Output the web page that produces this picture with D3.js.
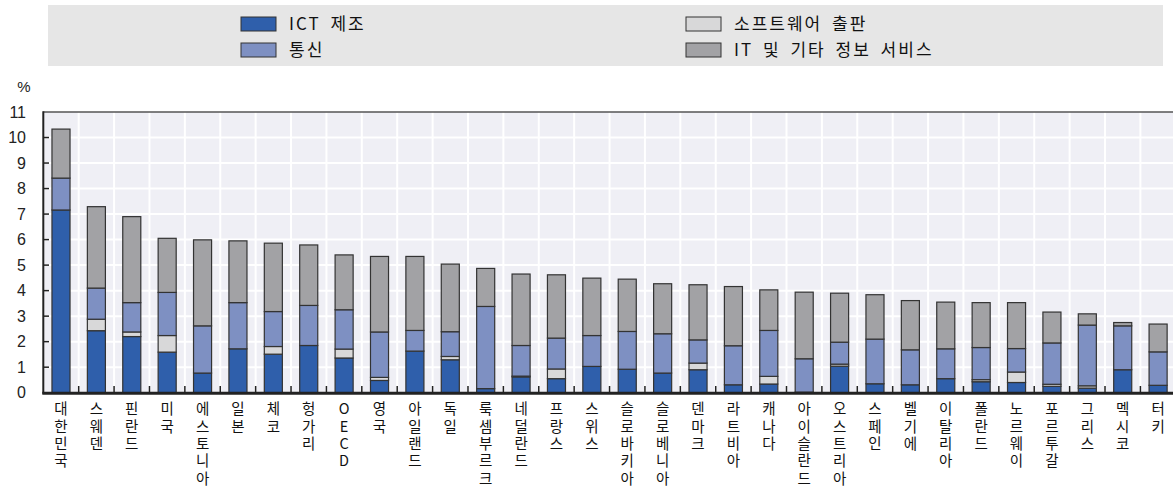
<!DOCTYPE html>
<html>
<head>
<meta charset="utf-8">
<style>
  body { margin: 0; background: #fff; }
  svg { display: block; font-family: "Noto Sans CJK KR", "Liberation Sans", sans-serif; }
  .xl { writing-mode: vertical-rl; text-orientation: upright; }
</style>
</head>
<body>
<svg width="1173" height="489"></svg>
<script src="https://d3js.org/d3.v7.min.js"></script>
<script>
var countries = ["대한민국","스웨덴","핀란드","미국","에스토니아","일본","체코","헝가리","OECD","영국","아일랜드",
  "독일","룩셈부르크","네덜란드","프랑스","스위스","슬로바키아","슬로베니아","덴마크","라트비아","캐나다","아이슬란드",
  "오스트리아","스페인","벨기에","이탈리아","폴란드","노르웨이","포르투갈","그리스","멕시코","터키"];

var ictManufacturing = [7.16,2.43,2.20,1.59,0.77,1.72,1.51,1.85,1.36,0.48,1.63,
  1.29,0.16,0.62,0.55,1.03,0.92,0.77,0.90,0.31,0.34,0.02,
  1.04,0.35,0.31,0.55,0.43,0.40,0.25,0.18,0.90,0.29];
var softwarePublishing = [0,0.45,0.18,0.65,0,0,0.30,0,0.35,0.12,0,
  0.13,0,0.03,0.38,0,0,0,0.26,0,0.30,0,
  0.08,0,0,0,0.08,0.41,0.08,0.09,0,0];
var telecom = [1.25,1.22,1.15,1.69,1.85,1.81,1.37,1.57,1.54,1.78,0.81,
  0.97,3.22,1.20,1.21,1.21,1.48,1.54,0.91,1.53,1.80,1.31,
  0.86,1.75,1.37,1.17,1.26,0.92,1.62,2.38,1.72,1.31];
var itServices = [1.92,3.19,3.37,2.12,3.37,2.42,2.68,2.37,2.15,2.96,2.90,
  2.65,1.49,2.80,2.48,2.25,2.05,1.96,2.16,2.32,1.59,2.61,
  1.92,1.74,1.93,1.83,1.76,1.80,1.21,0.44,0.13,1.09];

var seriesKeys = ["ict", "sw", "tel", "it"];
var seriesNames = {ict: "ICT 제조", sw: "소프트웨어 출판", tel: "통신", it: "IT 및 기타 정보 서비스"};
var yTicks = d3.range(0, 12);

var colors = {ict: "#2f5fab", sw: "#d8d8d9", tel: "#7e90c2", it: "#a2a2a5"};

var svg = d3.select("svg");

var rows = countries.map(function(c, i) {
  return {country: c, ict: ictManufacturing[i], sw: softwarePublishing[i], tel: telecom[i], it: itServices[i]};
});

var x = d3.scaleBand().domain(countries).range([43.3, 1175.8]).paddingInner(0.49).paddingOuter(0.245);
var y = d3.scaleLinear().domain([0, 11]).range([392.7, 112]);
var step = x.step();

// legend
svg.append("rect").attr("x", 48).attr("y", 5).attr("width", 1115).attr("height", 61).attr("fill", "#e6e6e6");
var legendPos = [
  {k: "ict", x: 241, y: 17}, {k: "tel", x: 241, y: 43},
  {k: "sw", x: 686, y: 17}, {k: "it", x: 686, y: 43}
];
var lg = svg.selectAll(".lg").data(legendPos).enter().append("g").attr("class", "lg");
lg.append("rect")
  .attr("x", function(d) { return d.x; }).attr("y", function(d) { return d.y; })
  .attr("width", 35).attr("height", 14)
  .attr("fill", function(d) { return colors[d.k]; })
  .attr("stroke", "#333").attr("stroke-width", 1);
lg.append("text")
  .attr("x", function(d) { return d.x + 48; }).attr("y", function(d) { return d.y + 7; })
  .attr("dy", "0.35em").attr("font-size", 17).attr("fill", "#111")
  .attr("letter-spacing", 2).attr("word-spacing", 4)
  .text(function(d) { return seriesNames[d.k]; });

// plot background
svg.append("rect").attr("x", 43.3).attr("y", 112).attr("width", 1173 - 43.3).attr("height", 392.7 - 112).attr("fill", "#efeff5");

// grid
svg.selectAll(".hg").data(yTicks.slice(1, -1)).enter().append("line")
  .attr("x1", 43.3).attr("x2", 1173)
  .attr("y1", function(d) { return y(d); }).attr("y2", function(d) { return y(d); })
  .attr("stroke", "#fff").attr("stroke-width", 2);
svg.selectAll(".vg").data(countries.slice(1)).enter().append("line")
  .attr("x1", function(d) { return x(d) - step * 0.245; }).attr("x2", function(d) { return x(d) - step * 0.245; })
  .attr("y1", 112).attr("y2", 392.7)
  .attr("stroke", "#fff").attr("stroke-width", 2);

// bars
var stack = d3.stack().keys(seriesKeys)(rows);
svg.selectAll(".layer").data(stack).enter().append("g").attr("class", "layer")
  .attr("fill", function(d) { return colors[d.key]; })
  .selectAll("rect").data(function(d) { return d.filter(function(p) { return p[1] - p[0] > 0; }); }).enter().append("rect")
  .attr("x", function(d) { return x(d.data.country); })
  .attr("width", x.bandwidth())
  .attr("y", function(d) { return y(d[1]); })
  .attr("height", function(d) { return y(d[0]) - y(d[1]); })
  .attr("stroke", "#333").attr("stroke-width", 1.2);

// frame: top and left, bottom axis
svg.append("line").attr("x1", 43.3).attr("x2", 1173).attr("y1", 112).attr("y2", 112).attr("stroke", "#555").attr("stroke-width", 1.5);
svg.append("line").attr("x1", 43.3).attr("x2", 43.3).attr("y1", 111.3).attr("y2", 393.7).attr("stroke", "#222").attr("stroke-width", 2);
svg.append("line").attr("x1", 42.3).attr("x2", 1173).attr("y1", 393.2).attr("y2", 393.2).attr("stroke", "#222").attr("stroke-width", 3);

// y ticks
svg.selectAll(".yt").data(yTicks.slice(1, -1)).enter().append("line")
  .attr("x1", 43.3).attr("x2", 49)
  .attr("y1", function(d) { return y(d); }).attr("y2", function(d) { return y(d); })
  .attr("stroke", "#222").attr("stroke-width", 1.5);
svg.selectAll(".yl").data(yTicks).enter().append("text")
  .attr("x", 26).attr("y", function(d) { return y(d); }).attr("dy", "0.36em")
  .attr("text-anchor", "end").attr("font-family", "Liberation Sans, Arial, sans-serif")
  .attr("font-size", 16).attr("fill", "#222")
  .text(function(d) { return d; });
svg.append("text").attr("x", 24).attr("y", 87).attr("dy", "0.35em").attr("text-anchor", "middle")
  .attr("font-family", "Liberation Sans, Arial, sans-serif").attr("font-size", 15).attr("fill", "#222").text("%");

// x ticks at band boundaries
svg.selectAll(".xt").data(countries.slice(1)).enter().append("line")
  .attr("x1", function(d) { return x(d) - step * 0.245; }).attr("x2", function(d) { return x(d) - step * 0.245; })
  .attr("y1", 392).attr("y2", 386)
  .attr("stroke", "#222").attr("stroke-width", 1.5);

// x labels, written top to bottom
svg.selectAll(".xl").data(countries).enter().append("text")
  .attr("class", "xl")
  .attr("x", function(d) { return x(d) + x.bandwidth() / 2; })
  .attr("y", 401.5)
  .attr("font-size", 14.5).attr("letter-spacing", 2.9).attr("fill", "#111")
  .text(function(d) { return d; });
</script>
</body>
</html>
